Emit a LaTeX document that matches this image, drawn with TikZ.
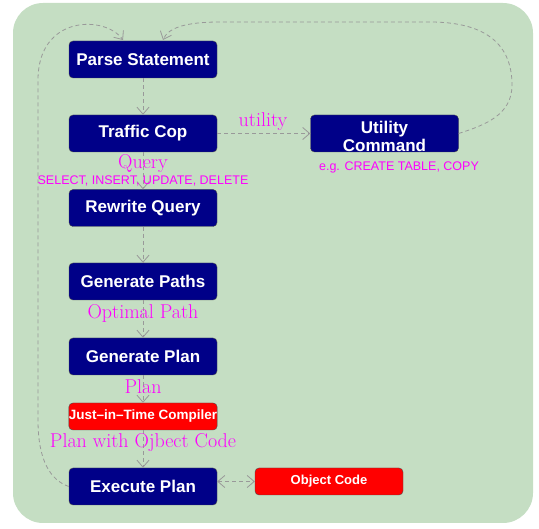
\documentclass[tikz,border=0pt]{standalone}
\usepackage{fontspec}
\newfontfamily\boxfont[Ligatures=TeX]{Liberation Sans}
\usetikzlibrary{arrows.meta}
\definecolor{bggreen}{HTML}{C5DEC3}
\definecolor{navybox}{HTML}{000088}
\definecolor{linegray}{HTML}{999999}
\definecolor{pinkmag}{HTML}{FF00FF}
\begin{document}
\begin{tikzpicture}[x=1pt,y=-1pt,
  box/.style={draw=black!70, fill=navybox, rounded corners=4pt, minimum width=148pt, minimum height=37pt, inner sep=0pt, text=white, font=\boxfont\bfseries\fontsize{17}{18}\selectfont, align=center},
  redbox/.style={box, fill=red, minimum height=27pt, font=\boxfont\bfseries\fontsize{13.5}{14}\selectfont},
  conn/.style={draw=linegray, dash pattern=on 4pt off 3pt, line width=0.8pt, -{Straight Barb[length=7pt,width=12pt]}},
  lbl/.style={text=pinkmag, inner sep=0pt, font=\fontsize{20}{20}\selectfont},
  small/.style={text=pinkmag, inner sep=0pt, font=\boxfont\fontsize{12.5}{13}\selectfont}]
\useasboundingbox (0,0) rectangle (539,529);
\fill[bggreen, rounded corners=30pt] (13,3) rectangle (533,523);

\node[box] (parse) at (143,59.5) {Parse Statement};
\node[box] (cop) at (143,133.5) {Traffic Cop};
\node[box] (rewrite) at (143,208) {Rewrite Query};
\node[box] (paths) at (143,281.5) {Generate Paths};
\node[box] (plan) at (143,356.5) {Generate Plan};
\node[redbox] (jit) at (143,416.5) {Just--in--Time Compiler};
\node[box] (exec) at (143,486.5) {Execute Plan};
\node[box, text depth=0pt] (util) at (384.5,133.5) {};
\node[text=white, inner sep=0pt, align=center, font=\boxfont\bfseries\fontsize{17}{18}\selectfont] (utiltxt) at (384.5,136) {Utility\\Command};
\node[redbox, font=\boxfont\bfseries\fontsize{13}{14}\selectfont] (obj) at (329,481.5) {Object Code};

\draw[conn] (parse) -- (cop);
\draw[conn] (cop) -- (rewrite);
\draw[conn] (rewrite) -- (paths);
\draw[conn] (paths) -- (plan);
\draw[conn] (plan) -- (jit);
\draw[conn] (jit) -- (exec);
\draw[conn] (cop) -- (util);
\draw[conn, {Straight Barb[length=7pt,width=12pt]}-{Straight Barb[length=7pt,width=12pt]}] (exec.east |- obj) -- (obj.west);

\coordinate (pin1) at (123,40);
\coordinate (pin2) at (163,40);
\draw[conn] (exec.west) .. controls (50,480) and (38,460) .. (38,420) -- (38,80)
  .. controls (38,15) and (105,15) .. (pin1);
\draw[conn] (util.east) .. controls (485,125) and (512,115) .. (512,85)
  .. controls (512,40) and (480,22) .. (430,22) -- (220,22)
  .. controls (185,22) and (168,28) .. (pin2);

\node[lbl, anchor=south] (lutil) at (263,131) {utility};
\node[lbl] (lquery) at (143,164) {Query};
\node[small] (lsel) at (143,181) {SELECT, INSERT, UPDATE, DELETE};
\node[small] (leg) at (399,167) {e.g. CREATE TABLE, COPY};
\node[lbl] (lopt) at (143,313) {Optimal Path};
\node[lbl] (lplan) at (143,387) {Plan};
\node[lbl] (lpwoc) at (143,443) {Plan with Ojbect Code};
\end{tikzpicture}
\end{document}
